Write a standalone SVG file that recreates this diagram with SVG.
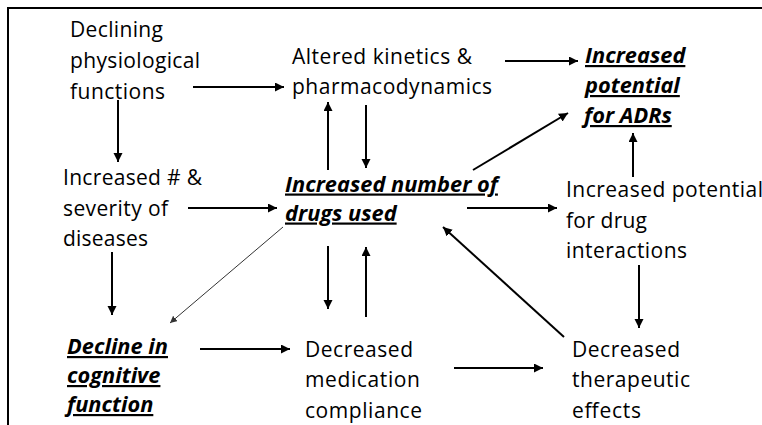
<svg xmlns="http://www.w3.org/2000/svg" width="762" height="425" viewBox="0 0 762 425">
<style>
  text { font-family: "Open Sans", "Noto Sans", "DejaVu Sans", sans-serif; font-size: 21px; fill: #000; }
  .key { font-weight: bold; font-style: italic; font-size: 21.8px; text-decoration: underline; text-decoration-thickness: 2px; text-decoration-skip-ink: none; }
  .frame { fill: none; stroke: #000; stroke-width: 2; }
  .conn line { stroke: #000; stroke-width: 2; marker-end: url(#arrow); }
  .conn line.thin { stroke: #333; stroke-width: 1; marker-end: url(#arrowSmall); }
</style>
<defs>
  <marker id="arrow" markerUnits="userSpaceOnUse" markerWidth="10" markerHeight="10" refX="9" refY="4.5" orient="auto">
    <path d="M0,0 L9,4.5 L0,9 Z" fill="#000"/>
  </marker>
  <marker id="arrowSmall" markerUnits="userSpaceOnUse" markerWidth="8" markerHeight="8" refX="7" refY="3.5" orient="auto">
    <path d="M0,0 L7,3.5 L0,7 Z" fill="#333"/>
  </marker>
</defs>
<rect width="762" height="425" fill="#fff"/>
<path class="frame" d="M8,425 V8 H762"/>

<g id="connectors" class="conn">
  <line x1="193" y1="87" x2="284" y2="87"/>
  <line x1="118" y1="100" x2="118" y2="162"/>
  <line x1="505" y1="61" x2="578" y2="61"/>
  <line x1="328" y1="170" x2="328" y2="102"/>
  <line x1="366" y1="105" x2="366" y2="168"/>
  <line x1="473" y1="170" x2="568" y2="113"/>
  <line x1="633" y1="177" x2="633" y2="133"/>
  <line x1="188" y1="208" x2="277" y2="208"/>
  <line x1="467" y1="208" x2="557" y2="208"/>
  <line x1="112" y1="252" x2="112" y2="315"/>
  <line class="thin" x1="283" y1="227" x2="170" y2="323"/>
  <line x1="200" y1="349" x2="290" y2="349"/>
  <line x1="328" y1="246" x2="328" y2="309"/>
  <line x1="366" y1="317" x2="366" y2="247"/>
  <line x1="454" y1="368" x2="543" y2="368"/>
  <line x1="639" y1="265" x2="639" y2="328"/>
  <line x1="564" y1="337" x2="443" y2="227"/>
</g>

<g id="declining">
  <text x="70" y="37" textLength="93" lengthAdjust="spacing">Declining</text>
  <text x="70" y="68" textLength="130" lengthAdjust="spacing">physiological</text>
  <text x="70" y="99" textLength="95" lengthAdjust="spacing">functions</text>
</g>
<g id="altered">
  <text x="292" y="63.5" textLength="180" lengthAdjust="spacing">Altered kinetics &amp;</text>
  <text x="292" y="94" textLength="200" lengthAdjust="spacing">pharmacodynamics</text>
</g>
<g id="adrs">
  <text class="key" x="585" y="63">Increased</text>
  <text class="key" x="585" y="93">potential</text>
  <text class="key" x="584" y="123">for ADRs</text>
</g>
<g id="diseases">
  <text x="63" y="185" textLength="139" lengthAdjust="spacing">Increased # &amp;</text>
  <text x="63" y="215.5" textLength="105" lengthAdjust="spacing">severity of</text>
  <text x="63" y="246" textLength="85" lengthAdjust="spacing">diseases</text>
</g>
<g id="drugs">
  <text class="key" x="285" y="191.5">Increased number of</text>
  <text class="key" x="285" y="220.5">drugs used</text>
</g>
<g id="interactions">
  <text x="566" y="197" textLength="197" lengthAdjust="spacing">Increased potential</text>
  <text x="566" y="228" textLength="81" lengthAdjust="spacing">for drug</text>
  <text x="566" y="258" textLength="121" lengthAdjust="spacing">interactions</text>
</g>
<g id="cognitive">
  <text class="key" x="67" y="354">Decline in</text>
  <text class="key" x="67" y="383">cognitive</text>
  <text class="key" x="67" y="412">function</text>
</g>
<g id="compliance">
  <text x="305" y="357" textLength="108" lengthAdjust="spacing">Decreased</text>
  <text x="305" y="387" textLength="115" lengthAdjust="spacing">medication</text>
  <text x="305" y="417.5" textLength="117" lengthAdjust="spacing">compliance</text>
</g>
<g id="therapeutic">
  <text x="572" y="357" textLength="108" lengthAdjust="spacing">Decreased</text>
  <text x="572" y="387" textLength="118" lengthAdjust="spacing">therapeutic</text>
  <text x="572" y="417.5" textLength="69" lengthAdjust="spacing">effects</text>
</g>
</svg>
